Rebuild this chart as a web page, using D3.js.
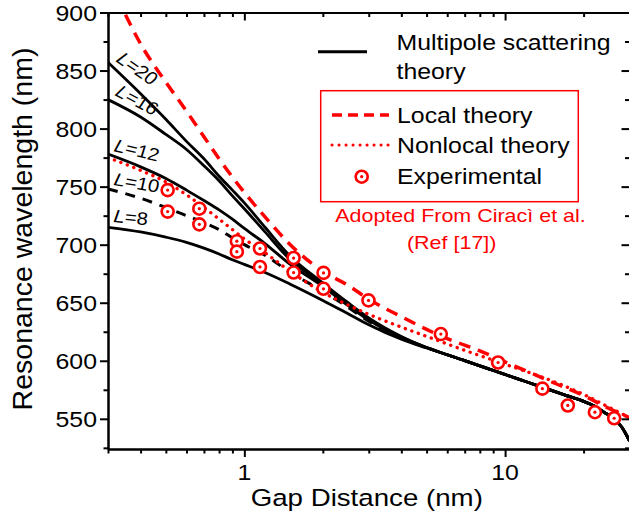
<!DOCTYPE html>
<html>
<head>
<meta charset="utf-8">
<script src="https://cdn.jsdelivr.net/npm/d3@7"></script>
<style>
  body { margin: 0; background: #fff; }
  svg { display: block; }
  text { font-family: "Liberation Sans", Arial, Helvetica, sans-serif; }
</style>
</head>
<body>
<svg id="chart" width="629" height="516"></svg>
<script>
// Gap distances (nm) at which the multipole-scattering curves are sampled
const gapMultipole = [0.3, 0.4, 0.5, 0.6, 0.7, 0.8, 0.9, 1.0, 1.2, 1.5, 2.0, 2.5, 3.0, 4.0, 5.0, 7.0, 10, 14, 17, 20, 22, 24, 26, 28, 30];
// Resonance wavelength (nm) for each multipole order L
const waveL20 = [857, 830, 808, 789, 774, 759, 747, 736, 715, 690, 667, 650, 637, 621, 611.4, 600.1, 588.2, 576.9, 570.4, 565, 561, 555.5, 550.5, 543, 531];
const waveL16 = [825, 810, 795, 782, 768, 755, 742, 731, 711, 687, 666, 649, 636, 620.5, 611.4, 600.1, 588.2, 576.9, 570.4, 565, 561, 555.5, 550.5, 543, 531];
const waveL12 = [778, 767, 757, 747, 738, 730, 722, 714, 701, 683, 664, 647.5, 635, 620, 611.4, 600.1, 588.2, 576.9, 570.4, 565, 561, 555.5, 550.5, 543, 531];
const waveL10 = [748, 740, 732, 725, 719, 713, 706, 700, 691, 676, 660, 646, 634, 619.5, 611.4, 600.1, 588.2, 576.9, 570.4, 565, 561, 555.5, 550.5, 543, 531];
const waveL8  = [715, 711, 706.5, 702, 697, 692, 687, 683, 676, 666, 652, 640.5, 631, 618.5, 611, 600.1, 588.2, 576.9, 570.4, 565, 561, 555.5, 550.5, 543, 531];

// Local theory (Ciracì et al.)
const gapLocal  = [0.35, 0.4, 0.5, 0.6, 0.7, 0.8, 1.0, 1.2, 1.5, 2.0, 2.5, 3.0, 4.0, 5.0, 6.0, 7.0, 8.0, 10, 12, 15, 20, 25, 30];
const waveLocal = [898, 873, 840, 815, 793, 774, 745, 724, 700, 677, 665, 653, 638, 627, 619, 613.5, 608.5, 599, 591.5, 582, 570, 559, 551];

// Nonlocal theory (Ciracì et al.)
const gapNonlocal  = [0.3, 0.4, 0.5, 0.6, 0.7, 0.8, 0.9, 1.0, 1.2, 1.5, 2.0, 2.5, 3.0, 4.0, 5.0, 7.0, 10, 15, 20, 25, 30];
const waveNonlocal = [775, 764, 754, 743, 732, 722, 713, 705, 693, 677, 659, 648, 640, 629, 621, 609, 597, 583, 571, 560, 551];

// Experimental resonances
const gapExp  = [0.508, 0.508, 0.672, 0.672, 0.936, 0.936, 1.148, 1.148, 1.545, 1.545, 2.012, 2.012, 2.993, 5.67, 9.4, 13.9, 17.4, 22.1, 26.2];
const waveExp = [747, 728.5, 731, 717.5, 703, 694, 696.7, 680.8, 688.5, 676, 675.7, 662, 652, 623, 598.5, 576, 561.5, 555.7, 550.5];

// Axis ticks
const yMajor = [550, 600, 650, 700, 750, 800, 850, 900];
const yMinor = [525, 575, 625, 675, 725, 775, 825, 875];
const xMajor = [1, 10];
const xMinor = [0.3, 0.4, 0.5, 0.6, 0.7, 0.8, 0.9, 2, 3, 4, 5, 6, 7, 8, 9, 20, 30];
const xLabels = ["1", "10"];

const svg = d3.select("#chart");
const W = 629, H = 516;
const plot = { left: 108, right: 629.5, top: 12.5, bottom: 449 };
const SX = 1.13; // horizontal text stretch

const x = d3.scaleLog().domain([0.3, 30]).range([plot.left, plot.right]);
const y = d3.scaleLinear().domain([524, 900]).range([plot.bottom, plot.top]);

svg.append("rect").attr("width", W).attr("height", H).attr("fill", "#fff");

svg.append("defs").append("clipPath").attr("id", "plotClip")
  .append("rect")
  .attr("x", plot.left).attr("y", plot.top)
  .attr("width", plot.right - plot.left).attr("height", plot.bottom - plot.top);

const line = d3.line()
  .x(d => x(d[0])).y(d => y(d[1]))
  .curve(d3.curveMonotoneX);

const curves = svg.append("g").attr("clip-path", "url(#plotClip)");

function zip(xs, ys) { return xs.map((v, i) => [v, ys[i]]); }

// Multipole scattering curves
[waveL20, waveL16, waveL12, waveL8].forEach(ws => {
  curves.append("path")
    .datum(zip(gapMultipole, ws))
    .attr("d", line)
    .attr("fill", "none")
    .attr("stroke", "#000")
    .attr("stroke-width", 2.8);
});
curves.append("path")
  .datum(zip(gapMultipole, waveL10))
  .attr("d", line)
  .attr("fill", "none")
  .attr("stroke", "#000")
  .attr("stroke-width", 3)
  .attr("stroke-dasharray", "10 8");

// Local theory (dashed)
curves.append("path")
  .datum(zip(gapLocal, waveLocal))
  .attr("d", line)
  .attr("fill", "none")
  .attr("stroke", "#ff0000")
  .attr("stroke-width", 3.5)
  .attr("stroke-dasharray", "12 8");

// Nonlocal theory (dotted)
curves.append("path")
  .datum(zip(gapNonlocal, waveNonlocal))
  .attr("d", line)
  .attr("fill", "none")
  .attr("stroke", "#ff0000")
  .attr("stroke-width", 3.4)
  .attr("stroke-linecap", "round")
  .attr("stroke-dasharray", "0.1 6.8");

// Experimental markers
function marker(g, cx, cy) {
  g.append("circle").attr("cx", cx).attr("cy", cy).attr("r", 6)
    .attr("fill", "#fff").attr("stroke", "#ff0000").attr("stroke-width", 2.6);
  g.append("circle").attr("cx", cx).attr("cy", cy).attr("r", 1.6)
    .attr("fill", "#ff0000");
}
const pts = svg.append("g");
zip(gapExp, waveExp).forEach(d => marker(pts, x(d[0]), y(d[1])));

// Axes
function styleAxis(g) {
  g.selectAll("path.domain").attr("stroke", "#000").attr("stroke-width", 2);
  g.selectAll(".tick line").attr("stroke", "#000").attr("stroke-width", 2);
  g.selectAll(".tick text").remove();
}
function drawAxis(axisFn, scale, values, size, transform) {
  const g = svg.append("g").attr("transform", transform)
    .call(axisFn(scale).tickValues(values).tickSize(size).tickSizeOuter(0).tickFormat(""));
  styleAxis(g);
  return g;
}
drawAxis(d3.axisLeft, y, yMajor, 8, `translate(${plot.left},0)`);
drawAxis(d3.axisLeft, y, yMinor, 4.5, `translate(${plot.left},0)`);
drawAxis(d3.axisLeft, y, yMajor, 8, `translate(${plot.right},0)`);
drawAxis(d3.axisLeft, y, yMinor, 4.5, `translate(${plot.right},0)`);
drawAxis(d3.axisBottom, x, xMajor, 8, `translate(0,${plot.bottom})`);
drawAxis(d3.axisBottom, x, xMinor, 4.5, `translate(0,${plot.bottom})`);
drawAxis(d3.axisBottom, x, xMajor, 8, `translate(0,${plot.top})`);
drawAxis(d3.axisBottom, x, xMinor, 4.5, `translate(0,${plot.top})`);

// Stretched text helper
function label(tx, ty, str, opts = {}) {
  return svg.append("text")
    .attr("transform", `translate(${tx},${ty}) scale(${opts.sx ?? SX},1)`)
    .attr("font-size", opts.size ?? 22)
    .attr("fill", opts.fill ?? "#000")
    .attr("text-anchor", opts.anchor ?? "start")
    .text(str);
}

// Tick labels
yMajor.forEach(v => label(97, y(v) + 8, String(v), { anchor: "end" }));
xMajor.forEach((v, i) => label(x(v), 480, xLabels[i], { anchor: "middle" }));

// Axis titles
label((plot.left + plot.right) / 2 - 2, 505.5, "Gap Distance (nm)", { anchor: "middle", size: 24.5 });
svg.append("text")
  .attr("transform", "translate(32,229) rotate(-90)")
  .attr("font-size", 28.5)
  .attr("text-anchor", "middle")
  .text("Resonance wavelength (nm)");

// Multipole order labels along the curves
const orderLabels = [
  { txt: "20", px: 115, py: 61, rot: 38 },
  { txt: "16", px: 114, py: 95, rot: 31 },
  { txt: "12", px: 113, py: 151, rot: 15 },
  { txt: "10", px: 113, py: 185, rot: 11 },
  { txt: "8",  px: 113, py: 222, rot: 6 }
];
orderLabels.forEach(o => {
  const t = svg.append("text")
    .attr("transform", `translate(${o.px},${o.py}) scale(${SX},1) rotate(${o.rot})`)
    .attr("font-size", 18);
  t.append("tspan").attr("font-style", "italic").text("L");
  t.append("tspan").text("=" + o.txt);
});

// Legend
svg.append("line").attr("x1", 318).attr("x2", 367).attr("y1", 51.7).attr("y2", 51.7)
  .attr("stroke", "#000").attr("stroke-width", 3);
label(396.5, 50, "Multipole scattering");
label(396.5, 78.5, "theory");

svg.append("rect").attr("x", 320.7).attr("y", 90.7).attr("width", 257.6).attr("height", 111)
  .attr("fill", "none").attr("stroke", "#ff0000").attr("stroke-width", 1.5);

svg.append("line").attr("x1", 332).attr("x2", 389).attr("y1", 115).attr("y2", 115)
  .attr("stroke", "#ff0000").attr("stroke-width", 3.5).attr("stroke-dasharray", "10 6");
label(397, 123, "Local theory");

svg.append("line").attr("x1", 332).attr("x2", 389).attr("y1", 145).attr("y2", 145)
  .attr("stroke", "#ff0000").attr("stroke-width", 3).attr("stroke-linecap", "round")
  .attr("stroke-dasharray", "0.1 6.9");
label(397, 153, "Nonlocal theory");

marker(svg, 361.7, 176.7);
label(397, 184.3, "Experimental");

label(460.5, 222, "Adopted From Ciracì et al.", { anchor: "middle", size: 19, fill: "#ff0000" });
label(451.7, 249, "(Ref [17])", { anchor: "middle", size: 19, fill: "#ff0000" });
</script>
</body>
</html>
